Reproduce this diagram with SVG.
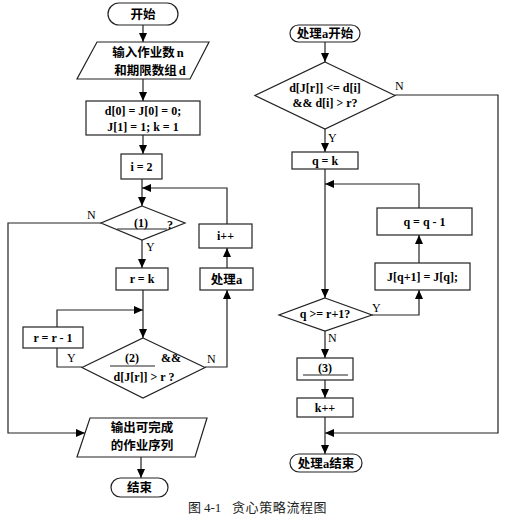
<svg xmlns="http://www.w3.org/2000/svg" width="507" height="524" viewBox="0 0 507 524">
<style>
.shape{fill:#fff;stroke:#222;stroke-width:1.2}
.line{fill:none;stroke:#222;stroke-width:1.2}
.t{font-family:"Liberation Serif","Noto Sans CJK SC",serif;font-weight:bold;font-size:12px;fill:#000;text-anchor:middle}
.c{font-family:"Noto Sans CJK SC","Liberation Sans",sans-serif;font-weight:bold;font-size:12.5px;fill:#000;text-anchor:middle}
.lbl{font-family:"Liberation Serif",serif;font-size:12px;fill:#000}
.cap{font-family:"Noto Sans CJK SC","Liberation Serif",serif;font-size:13px;fill:#222}
</style>
<defs>
<marker id="arr" markerUnits="userSpaceOnUse" markerWidth="10" markerHeight="8" refX="9" refY="4" orient="auto">
<path d="M0,0 L9,4 L0,8 Z" fill="#000"/>
</marker>
</defs>
<rect width="507" height="524" fill="#fff"/>

<g id="connectors">
<line class="line" x1="143" y1="25" x2="143" y2="42" marker-end="url(#arr)"/>
<line class="line" x1="143" y1="79" x2="143" y2="101" marker-end="url(#arr)"/>
<line class="line" x1="143" y1="135" x2="143" y2="154" marker-end="url(#arr)"/>
<line class="line" x1="142" y1="179" x2="142" y2="206" marker-end="url(#arr)"/>
<polyline class="line" points="227,224 227,188 142,188" marker-end="url(#arr)"/>
<line class="line" x1="142" y1="240" x2="142" y2="268" marker-end="url(#arr)"/>
<polyline class="line" points="101,223 8,223 8,433 85,433" marker-end="url(#arr)"/>
<line class="line" x1="143" y1="290" x2="143" y2="338" marker-end="url(#arr)"/>
<polyline class="line" points="82,367 57,367 57,348"/>
<polyline class="line" points="57,327 57,310 143,310" marker-end="url(#arr)"/>
<polyline class="line" points="205,367 227,367 227,290" marker-end="url(#arr)"/>
<line class="line" x1="227" y1="268" x2="227" y2="248" marker-end="url(#arr)"/>
<line class="line" x1="141" y1="457" x2="141" y2="478" marker-end="url(#arr)"/>

<line class="line" x1="325" y1="42" x2="325" y2="62" marker-end="url(#arr)"/>
<line class="line" x1="325" y1="129" x2="325" y2="152" marker-end="url(#arr)"/>
<polyline class="line" points="395,95 498,95 498,433 325,433" marker-end="url(#arr)"/>
<line class="line" x1="325" y1="169" x2="325" y2="298" marker-end="url(#arr)"/>
<polyline class="line" points="419,208 419,184 325,184" marker-end="url(#arr)"/>
<polyline class="line" points="372,315 419,315 419,290" marker-end="url(#arr)"/>
<line class="line" x1="419" y1="263" x2="419" y2="235" marker-end="url(#arr)"/>
<line class="line" x1="325" y1="331" x2="325" y2="358" marker-end="url(#arr)"/>
<line class="line" x1="325" y1="380" x2="325" y2="398" marker-end="url(#arr)"/>
<line class="line" x1="325" y1="417" x2="325" y2="454" marker-end="url(#arr)"/>

<text class="lbl" x="87" y="219">N</text>
<text class="lbl" x="146" y="251">Y</text>
<text class="lbl" x="67" y="362">Y</text>
<text class="lbl" x="207" y="363">N</text>
<text class="lbl" x="395" y="90">N</text>
<text class="lbl" x="328" y="142">Y</text>
<text class="lbl" x="372" y="312">Y</text>
<text class="lbl" x="328" y="342">N</text>
</g>

<g id="start">
<rect class="shape" x="108" y="3" width="70" height="22" rx="11"/>
<text class="c" x="143" y="19">开始</text>
</g>
<g id="input">
<polygon class="shape" points="97,42 209,42 190,79 77,79"/>
<text class="c" x="148" y="57">输入作业数<tspan font-family="Liberation Serif" dx="2">n</tspan></text>
<text class="c" x="150" y="75">和期限数组<tspan font-family="Liberation Serif" dx="2">d</tspan></text>
</g>
<g id="init">
<rect class="shape" x="86" y="101" width="114" height="34"/>
<text class="t" x="143" y="115">d[0] = J[0] = 0;</text>
<text class="t" x="143" y="131">J[1] = 1; k = 1</text>
</g>
<g id="i2">
<rect class="shape" x="121" y="154" width="41" height="25"/>
<text class="t" x="141.5" y="171">i = 2</text>
</g>
<g id="cond1">
<polygon class="shape" points="142,206 185,223 142,240 101,223"/>
<line class="line" x1="117" y1="229" x2="167" y2="229"/>
<text class="t" x="141" y="227">(1)</text>
<text class="t" x="170" y="229">?</text>
</g>
<g id="iinc">
<rect class="shape" x="199" y="224" width="53" height="24"/>
<text class="t" x="225.5" y="240">i++</text>
</g>
<g id="rk">
<rect class="shape" x="116" y="268" width="52" height="22"/>
<text class="t" x="142" y="283">r = k</text>
</g>
<g id="proca">
<rect class="shape" x="200" y="268" width="53" height="22"/>
<text class="c" x="226.5" y="284">处理<tspan font-family="Liberation Serif">a</tspan></text>
</g>
<g id="rdec">
<rect class="shape" x="23" y="327" width="60" height="21"/>
<text class="t" x="53" y="342">r = r - 1</text>
</g>
<g id="cond2">
<polygon class="shape" points="143,338 205,367.5 143,398 82,367.5"/>
<line class="line" x1="110" y1="366" x2="155" y2="366"/>
<text class="t" x="132" y="362">(2)</text>
<text class="t" x="171" y="362">&amp;&amp;</text>
<text class="t" x="144" y="381">d[J[r]] &gt; r ?</text>
</g>
<g id="output">
<polygon class="shape" points="90,418 207,418 195,457 77,457"/>
<text class="c" x="142" y="432">输出可完成</text>
<text class="c" x="142" y="450">的作业序列</text>
</g>
<g id="end">
<rect class="shape" x="111" y="478" width="57" height="19" rx="9.5"/>
<text class="c" x="139.5" y="492">结束</text>
</g>

<g id="astart">
<rect class="shape" x="290" y="25" width="70" height="17" rx="8.5"/>
<text class="c" x="325" y="38">处理<tspan font-family="Liberation Serif">a</tspan>开始</text>
</g>
<g id="acond">
<polygon class="shape" points="325,62 395,95.5 325,129 255,95.5"/>
<text class="t" x="325" y="92">d[J[r]] &lt;= d[i]</text>
<text class="t" x="325" y="107">&amp;&amp; d[i] &gt; r?</text>
</g>
<g id="qk">
<rect class="shape" x="292" y="152" width="66" height="17"/>
<text class="t" x="325" y="165">q = k</text>
</g>
<g id="qdec">
<rect class="shape" x="377" y="208" width="95" height="27"/>
<text class="t" x="424.5" y="226">q = q - 1</text>
</g>
<g id="jshift">
<rect class="shape" x="375" y="263" width="95" height="27"/>
<text class="t" x="422.5" y="281">J[q+1] = J[q];</text>
</g>
<g id="qcond">
<polygon class="shape" points="325,298 372,315 325,331 279,315"/>
<text class="t" x="325" y="318">q &gt;= r+1?</text>
</g>
<g id="step3">
<rect class="shape" x="297" y="358" width="56" height="22"/>
<line class="line" x1="303" y1="375" x2="348" y2="375"/>
<text class="t" x="325" y="372">(3)</text>
</g>
<g id="kinc">
<rect class="shape" x="297" y="398" width="56" height="19"/>
<text class="t" x="325" y="412">k++</text>
</g>
<g id="aend">
<rect class="shape" x="290" y="454" width="72" height="18" rx="9"/>
<text class="c" x="326" y="468">处理<tspan font-family="Liberation Serif">a</tspan>结束</text>
</g>

<text class="cap" x="188" y="512">图<tspan x="204" font-family="Liberation Serif">4-1</tspan><tspan x="232" letter-spacing="0.6">贪心策略流程图</tspan></text>
</svg>
